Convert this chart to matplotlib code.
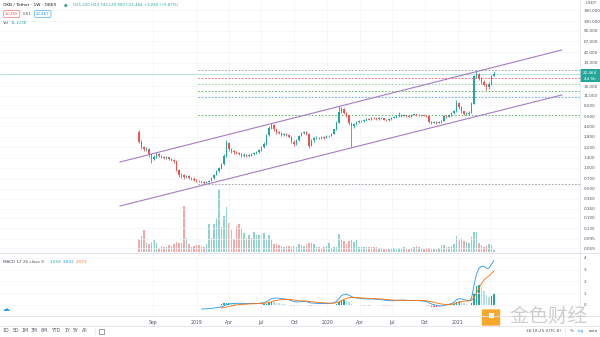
import matplotlib
matplotlib.use("Agg")
import matplotlib.pyplot as plt
import matplotlib.dates as mdates
from matplotlib.patches import FancyBboxPatch, Rectangle
import numpy as np
import pandas as pd

# ---------------- data ----------------
first_week = "2018-07-23"
first_open = 3.30
closes = [2.40, 2.00, 1.85, 1.90, 1.60, 1.35, 1.45, 1.60, 1.50, 1.45,
          1.40, 1.42, 1.35, 1.30, 1.25, 0.95, 0.80, 0.78, 0.74, 0.76,
          0.72, 0.70, 0.68, 0.66, 0.64, 0.62, 0.61, 0.63, 0.66, 0.72,
          0.80, 0.90, 1.00, 1.15, 1.50, 2.30, 1.85, 1.75, 1.70, 1.65,
          1.60, 1.50, 1.55, 1.50, 1.55, 1.60, 1.65, 1.70, 1.80, 2.00,
          2.20, 3.00, 3.80, 4.20, 3.60, 3.30, 3.20, 3.00, 3.10, 3.00,
          2.80, 2.40, 2.20, 2.50, 2.90, 3.20, 3.30, 3.10, 2.10, 2.50,
          2.70, 2.75, 2.70, 2.80, 2.75, 2.85, 2.90, 3.10, 3.60, 4.50,
          6.50, 7.20, 6.30, 5.80, 4.40, 4.00, 4.30, 4.60, 4.80, 4.70,
          4.90, 5.10, 5.00, 5.30, 5.20, 5.10, 5.30, 5.20, 5.00, 4.90,
          5.10, 5.30, 5.40, 5.60, 5.90, 5.70, 5.80, 5.60, 5.50, 5.90,
          6.00, 5.80, 5.90, 5.80, 5.70, 5.60, 4.60, 4.50, 4.60, 4.50,
          4.60, 4.80, 5.60, 5.50, 5.80, 6.20, 6.60, 8.60, 7.60, 6.60,
          6.00, 6.10, 6.30, 8.50, 21.00, 22.50, 19.50, 17.50, 16.00, 14.50,
          16.50, 21.22, 22.464]
highs = [3.50, 2.50, 2.10, 2.00, 1.95, 1.65, 1.55, 1.70, 1.65, 1.55,
         1.50, 1.48, 1.45, 1.40, 1.33, 1.28, 0.98, 0.86, 0.82, 0.80,
         0.78, 0.75, 0.73, 0.70, 0.68, 0.66, 0.64, 0.65, 0.68, 0.75,
         0.83, 0.94, 1.05, 1.20, 1.60, 2.55, 2.40, 1.95, 1.82, 1.78,
         1.72, 1.65, 1.62, 1.60, 1.60, 1.66, 1.72, 1.78, 1.90, 2.10,
         2.35, 3.10, 4.00, 4.45, 4.30, 3.70, 3.45, 3.30, 3.25, 3.20,
         3.05, 2.85, 2.50, 2.60, 3.00, 3.35, 3.45, 3.40, 3.15, 2.60,
         2.80, 2.85, 2.82, 2.90, 2.88, 2.95, 3.00, 3.20, 3.70, 4.70,
         7.80, 7.60, 7.40, 6.50, 5.90, 4.60, 4.50, 4.80, 5.00, 4.95,
         5.05, 5.25, 5.20, 5.45, 5.40, 5.30, 5.45, 5.40, 5.30, 5.10,
         5.20, 5.45, 5.55, 5.80, 6.40, 6.00, 6.00, 5.90, 5.75, 6.10,
         6.30, 6.10, 6.05, 6.00, 5.90, 5.85, 5.70, 4.75, 4.75, 4.70,
         4.75, 5.00, 5.80, 5.80, 6.00, 6.40, 6.90, 9.60, 8.90, 7.80,
         6.70, 6.40, 6.60, 9.00, 22.00, 25.50, 23.50, 20.50, 18.50, 16.80,
         17.20, 21.80, 24.743]
lows = [2.30, 1.90, 1.75, 1.75, 1.45, 1.20, 1.30, 1.40, 1.45, 1.40,
        1.35, 1.36, 1.30, 1.25, 1.20, 0.90, 0.74, 0.72, 0.70, 0.71,
        0.69, 0.67, 0.65, 0.63, 0.62, 0.60, 0.59, 0.60, 0.62, 0.65,
        0.70, 0.78, 0.88, 0.97, 1.12, 1.45, 1.75, 1.65, 1.60, 1.58,
        1.52, 1.42, 1.45, 1.44, 1.46, 1.50, 1.55, 1.60, 1.65, 1.75,
        1.95, 2.15, 2.90, 3.60, 3.40, 3.10, 3.05, 2.90, 2.90, 2.85,
        2.70, 2.30, 2.05, 2.15, 2.45, 2.85, 3.10, 3.00, 1.95, 2.05,
        2.40, 2.60, 2.60, 2.65, 2.65, 2.70, 2.78, 2.85, 3.05, 3.50,
        4.40, 6.20, 6.00, 5.50, 4.20, 2.00, 3.80, 4.20, 4.50, 4.55,
        4.60, 4.80, 4.85, 4.95, 5.05, 4.95, 5.00, 5.05, 4.85, 4.75,
        4.80, 5.00, 5.20, 5.30, 5.50, 5.50, 5.60, 5.45, 5.35, 5.40,
        5.80, 5.65, 5.70, 5.65, 5.55, 5.45, 4.50, 4.35, 4.40, 4.35,
        4.40, 4.50, 4.70, 5.30, 5.40, 5.70, 6.00, 6.50, 7.20, 6.30,
        5.80, 5.80, 5.90, 6.20, 8.30, 19.80, 18.50, 16.50, 15.00, 13.50,
        14.00, 16.00, 20.90]
volume_k = [38, 48, 66, 28, 23, 31, 36, 28, 13, 18,
            16, 15, 21, 18, 23, 31, 28, 28, 138, 41,
            25, 16, 18, 21, 20, 16, 16, 25, 85, 41,
            83, 103, 190, 76, 108, 136, 88, 65, 38, 78,
            83, 70, 58, 41, 51, 43, 61, 51, 51, 56,
            56, 38, 51, 35, 23, 23, 21, 18, 16, 18,
            18, 15, 18, 16, 23, 21, 18, 23, 28, 26,
            25, 16, 16, 13, 15, 18, 26, 13, 16, 16,
            55, 38, 33, 25, 33, 35, 30, 35, 16, 16,
            16, 16, 15, 16, 15, 15, 13, 12, 8, 9,
            8, 9, 11, 8, 11, 13, 15, 10, 8, 11,
            16, 18, 15, 11, 8, 11, 13, 10, 9, 10,
            13, 21, 21, 15, 15, 18, 23, 48, 38, 43,
            33, 31, 28, 45, 61, 61, 28, 20, 16, 18,
            23, 21, 5]

# drawing annotations (channel and levels)
channel_dates = ["2018-05-31", "2021-10-19"]
channel_upper = [1.22, 50.4]
channel_lower = [0.283, 11.3]
level_start = "2019-01-04"
level_prices = [25.9, 19.9, 16.3, 12.9, 10.6, 5.82, 0.588]
level_colors = ["#9598a1", "#f7525f", "#81c784", "#4caf50", "#5b9cf6", "#4caf50", "#9598a1"]
last_price = 22.464

price_ticks = [190, 130, 95, 67, 47, 33, 15, 11, 8, 5.5, 4, 2.8, 2, 1.4, 1,
               0.7, 0.5, 0.36, 0.26, 0.19, 0.135, 0.095, 0.069]
macd_ticks = [0, 1, 2, 3, 4]
time_ticks = ["2018-09-01", "2019-01-01", "2019-04-01", "2019-07-01", "2019-10-01",
              "2020-01-01", "2020-04-01", "2020-07-01", "2020-10-01", "2021-01-01", "2021-04-01"]
time_labels = ["Sep", "2019", "Apr", "Jul", "Oct", "2020", "Apr", "Jul", "Oct", "2021", "Apr"]

# ---------------- derived ----------------
dates = pd.date_range(first_week, periods=len(closes), freq="7D")
x = mdates.date2num(dates)
closes_a = np.array(closes)
opens_a = np.concatenate([[first_open], closes_a[:-1]])
highs_a = np.array(highs)
lows_a = np.array(lows)
up = closes_a >= opens_a

s = pd.Series(closes_a)
ema12 = s.ewm(span=12, adjust=False).mean()
ema26 = s.ewm(span=26, adjust=False).mean()
macd = (ema12 - ema26).values
signal = pd.Series(macd).ewm(span=9, adjust=False).mean().values
hist = macd - signal
macd_plot = macd.copy()
macd_plot[:25] = np.nan
sig_plot = signal.copy()
sig_plot[:33] = np.nan
hist_plot = hist.copy()
hist_plot[:33] = np.nan

UP = "#26a69a"
DN = "#ef5350"
TXT = "#50535e"

W, H = 600, 337
fig = plt.figure(figsize=(6, 3.37), dpi=100)
fig.patch.set_facecolor("white")

def fx(px):
    return px / W

def fy(py):
    return 1 - py / H

xmin = mdates.date2num(pd.Timestamp("2017-06-29"))
xmax = mdates.date2num(pd.Timestamp("2021-12-09"))

# volume axis (behind)
ax_v = fig.add_axes([0, fy(252), fx(580), 252 / H])
ax_v.set_zorder(0)
ax_p = fig.add_axes([0, fy(252), fx(580), 252 / H], sharex=ax_v)
ax_p.set_zorder(1)
ax_p.patch.set_alpha(0)
ax_m = fig.add_axes([0, fy(316), fx(580), (316 - 253) / H], sharex=ax_v)

# volume
vcol = [UP if u else DN for u in up]
ax_v.bar(x, volume_k, width=4.6, color=vcol, alpha=0.5, linewidth=0)
ax_v.set_ylim(0, max(volume_k) * 4.0)
ax_v.set_xlim(xmin, xmax)
ax_v.axis("off")

# price
ax_p.set_yscale("log")
ax_p.set_ylim(0.0614, 265)
ax_p.set_xlim(xmin, xmax)
ccol = [UP if u else DN for u in up]
ax_p.vlines(x, lows_a, highs_a, colors=ccol, linewidth=0.6, zorder=3)
body_lo = np.minimum(opens_a, closes_a)
body_hi = np.maximum(opens_a, closes_a)
ax_p.bar(x, body_hi - body_lo, bottom=body_lo, width=4.6, color=ccol, linewidth=0, zorder=4)

# channel
cd = mdates.date2num(pd.to_datetime(channel_dates))
ax_p.plot(cd, channel_upper, color="#a77bc8", lw=0.8, zorder=5)
ax_p.plot(cd, channel_lower, color="#a77bc8", lw=0.8, zorder=5)

# levels
ls = mdates.date2num(pd.Timestamp(level_start))
for pr, c in zip(level_prices, level_colors):
    ax_p.plot([ls, xmax], [pr, pr], color=c, lw=0.6, ls=(0, (2, 2)), zorder=2)
ax_p.axhline(last_price, color=UP, lw=0.5, alpha=0.45, zorder=2)

ax_p.yaxis.tick_right()
ax_p.set_yticks(price_ticks)
ax_p.set_yticklabels([f"{v:.3f}" for v in price_ticks])
ax_p.yaxis.set_minor_locator(matplotlib.ticker.NullLocator())
ax_p.tick_params(axis="y", length=0, labelsize=3.0, labelcolor=TXT, pad=2.5)
ax_p.tick_params(axis="x", length=0, labelbottom=False)
tt = mdates.date2num(pd.to_datetime(time_ticks))
ax_p.set_xticks(tt)
ax_p.grid(True, color="#f3f4f8", lw=0.5)
for sp in ["top", "left", "bottom"]:
    ax_p.spines[sp].set_visible(False)
ax_p.spines["right"].set_color("#e0e3eb")
ax_p.spines["right"].set_linewidth(0.5)

# MACD
hcol = []
for i, h in enumerate(hist):
    prev = hist[i - 1] if i > 0 else 0
    if h >= 0:
        hcol.append("#26a69a" if prev < h else "#b2dfdb")
    else:
        hcol.append("#ffcdd2" if prev < h else "#ff5252")
ax_m.bar(x, np.nan_to_num(hist_plot), width=4.0, color=hcol, linewidth=0)
ax_m.plot(x, macd_plot, color="#2196f3", lw=0.6)
ax_m.plot(x, sig_plot, color="#ff6d00", lw=0.6)
ax_m.set_ylim(-0.94, 4.4)
ax_m.set_xlim(xmin, xmax)
ax_m.yaxis.tick_right()
ax_m.set_yticks(macd_ticks)
ax_m.set_yticklabels([str(v) for v in macd_ticks])
ax_m.tick_params(axis="y", length=0, labelsize=3.0, labelcolor=TXT, pad=2.5)
ax_m.set_xticks(tt)
ax_m.set_xticklabels(time_labels)
ax_m.tick_params(axis="x", length=0, labelsize=3.3, labelcolor=TXT, pad=3)
ax_m.grid(True, color="#f3f4f8", lw=0.5)
for sp in ["left", "bottom"]:
    ax_m.spines[sp].set_visible(False)
ax_m.spines["top"].set_color("#e0e3eb")
ax_m.spines["top"].set_linewidth(0.6)
ax_m.spines["right"].set_color("#e0e3eb")
ax_m.spines["right"].set_linewidth(0.5)

fig.text(fx(3), fy(262), "MACD 12 26 close 9", fontsize=3.0, color=TXT, va="center")
fig.text(fx(50), fy(262), "1.059", fontsize=3.0, color=UP, va="center")
fig.text(fx(63), fy(262), "3.632", fontsize=3.0, color="#2196f3", va="center")
fig.text(fx(76), fy(262), "2.573", fontsize=3.0, color="#ff6d00", va="center")

# horizontal separators
fig.add_artist(plt.Line2D([0, 1], [fy(316), fy(316)], color="#e0e3eb", lw=0.6))
fig.add_artist(plt.Line2D([0, 1], [fy(325.5), fy(325.5)], color="#e0e3eb", lw=0.6))
fig.add_artist(plt.Line2D([0, 1], [fy(253), fy(253)], color="#e0e3eb", lw=0.6))

# price label box
fig.add_artist(Rectangle((fx(580), fy(81.5)), fx(20), 12.5 / H, color=UP, lw=0))
fig.text(fx(590), fy(72.5), "22.464", fontsize=3.0, color="white", ha="center", va="center")
fig.text(fx(590), fy(78.5), "4d 5h", fontsize=3.0, color="white", ha="center", va="center")
fig.text(fx(591), fy(3), "USDT", fontsize=3.0, color=TXT, ha="center", va="center")

# header
fig.text(fx(3), fy(5.5), "OKB / Tether · 1W · OKEX", fontsize=3.1, color="#131722", va="center")
fig.text(fx(66), fy(5.5), "●", fontsize=3.0, color=UP, ha="center", va="center")
fig.text(fx(73), fy(5.5), "O21.220 H24.743 L20.900 C22.464 +1.245 (+5.87%)", fontsize=2.8, color=UP, va="center")
fig.text(fx(5), fy(14), "22.455", fontsize=2.8, color=DN, va="center",
         bbox=dict(boxstyle="round,pad=0.35", fc="white", ec=DN, lw=0.4))
fig.text(fx(23), fy(14), "0.01", fontsize=2.8, color=TXT, va="center")
fig.text(fx(36), fy(14), "22.467", fontsize=2.8, color="#2196f3", va="center",
         bbox=dict(boxstyle="round,pad=0.35", fc="white", ec="#2196f3", lw=0.4))
fig.text(fx(3), fy(22.5), "Vol", fontsize=2.8, color=TXT, va="center")
fig.text(fx(11), fy(22.5), "11.223K", fontsize=2.8, color=UP, va="center")

# bottom toolbar
tb = ["1D", "5D", "1M", "3M", "6M", "YTD", "1Y", "5Y", "All"]
tbx = [6, 16, 25, 34, 44, 56, 67, 76, 85]
for t, px in zip(tb, tbx):
    fig.text(fx(px), fy(331), t, fontsize=3.3, color=TXT, ha="center", va="center")
fig.add_artist(plt.Line2D([fx(95), fx(95)], [fy(328), fy(334)], color="#e0e3eb", lw=0.5))
fig.add_artist(Rectangle((fx(98.5), fy(333.5)), fx(5), 5 / H, fc="none", ec=TXT, lw=0.4))
fig.text(fx(543), fy(331), "18:18:25 (UTC-8)", fontsize=3.0, color=TXT, ha="center", va="center")
fig.add_artist(plt.Line2D([fx(565), fx(565)], [fy(328), fy(334)], color="#e0e3eb", lw=0.5))
fig.text(fx(572), fy(331), "%", fontsize=3.0, color=TXT, ha="center", va="center")
fig.text(fx(581), fy(331), "log", fontsize=3.0, color="#2196f3", ha="center", va="center")
fig.text(fx(593), fy(331), "auto", fontsize=3.0, color=TXT, ha="center", va="center")
fig.text(fx(6), fy(309), "☁", fontsize=5, color="#2196f3", ha="center", va="center")

# watermark
fig.add_artist(FancyBboxPatch((fx(483), fy(325)), fx(16), 15 / H,
                              boxstyle="round,pad=0.002", fc="#f5a623", ec="none", alpha=0.95))
fig.add_artist(Rectangle((fx(489), fy(318)), fx(5), 5 / H, fc="white", ec="none"))
fig.text(fx(548), fy(316), "金色财经", fontsize=14, color="#c9c9c9", ha="center", va="center",
         family=["Noto Sans CJK SC", "DejaVu Sans"], alpha=0.9)

fig.savefig("out.png", dpi=100)
